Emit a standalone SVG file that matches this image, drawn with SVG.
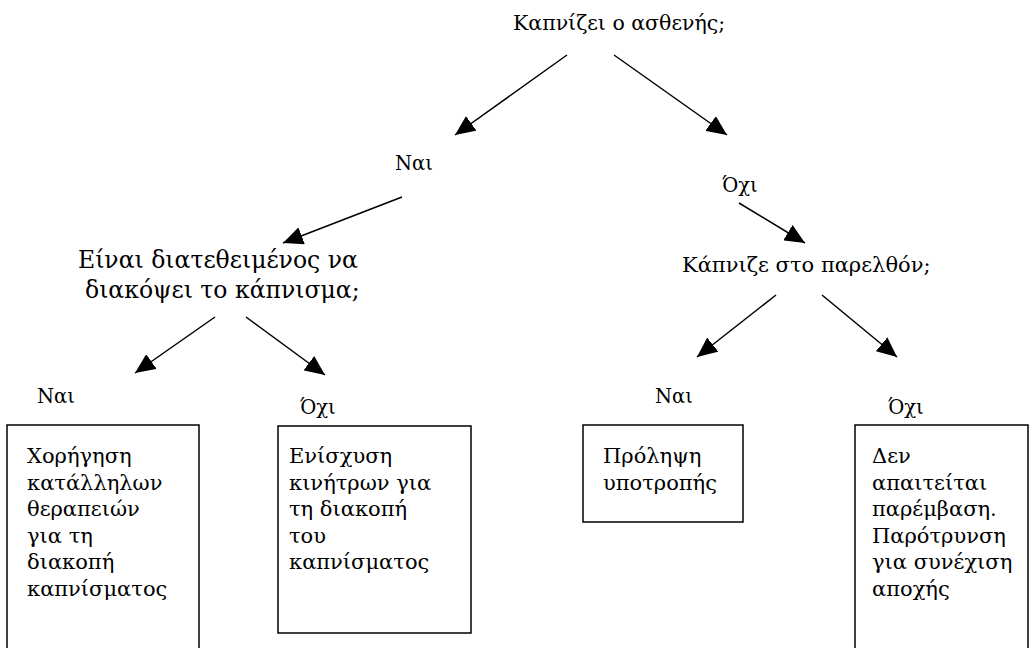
<svg xmlns="http://www.w3.org/2000/svg" width="1036" height="648" viewBox="0 0 1036 648">
<style>
text{font-family:"DejaVu Serif","Liberation Serif",serif;font-size:21px;fill:#000}
.q1{font-size:20.5px}
.lbl{font-size:19.5px}
.q2{font-size:23.5px}
.q3{font-size:21px}
.box{fill:#fff;stroke:#000;stroke-width:1.5}
.conn line{stroke:#000;stroke-width:1.5;marker-end:url(#ah)}
</style>
<defs>
<marker id="ah" markerUnits="userSpaceOnUse" markerWidth="22" markerHeight="18" refX="20" refY="9" orient="auto">
<path d="M0,0 L20,9 L0,18 Z" fill="#000"/>
</marker>
</defs>
<rect width="1036" height="648" fill="#fff"/>
<g id="q1"><text class="q1" x="513" y="30">Καπνίζει ο ασθενής;</text></g>
<g id="yes1"><text class="lbl" x="395" y="170">Ναι</text></g>
<g id="no1"><text class="lbl" x="722" y="192">Όχι</text></g>
<g id="q2"><text class="q2" x="78" y="268">Είναι διατεθειμένος να</text><text class="q2" x="85" y="298">διακόψει το κάπνισμα;</text></g>
<g id="q3"><text class="q3" x="682" y="272">Κάπνιζε στο παρελθόν;</text></g>
<g id="yes2"><text class="lbl" x="37" y="403">Ναι</text></g>
<g id="no2"><text class="lbl" x="300" y="414">Όχι</text></g>
<g id="yes3"><text class="lbl" x="655" y="403">Ναι</text></g>
<g id="no3"><text class="lbl" x="888" y="414">Όχι</text></g>
<g id="box1"><rect class="box" x="7" y="425" width="192" height="240"/>
<text x="27" y="463">Χορήγηση</text><text x="27" y="489.5">κατάλληλων</text><text x="27" y="516">θεραπειών</text><text x="27" y="542.5">για τη</text><text x="27" y="569">διακοπή</text><text x="27" y="595.5">καπνίσματος</text></g>
<g id="box2"><rect class="box" x="278" y="426" width="193" height="207"/>
<text x="289" y="463">Ενίσχυση</text><text x="289" y="489.5">κινήτρων για</text><text x="289" y="516">τη διακοπή</text><text x="289" y="542.5">του</text><text x="289" y="569">καπνίσματος</text></g>
<g id="box3"><rect class="box" x="583" y="425" width="160" height="97"/>
<text x="603" y="463">Πρόληψη</text><text x="603" y="489.5">υποτροπής</text></g>
<g id="box4"><rect class="box" x="855" y="425" width="173" height="240"/>
<text x="872" y="463">Δεν</text><text x="872" y="489.5">απαιτείται</text><text x="872" y="516">παρέμβαση.</text><text x="872" y="542.5">Παρότρυνση</text><text x="872" y="569">για συνέχιση</text><text x="872" y="595.5">αποχής</text></g>
<g class="conn" id="connectors">
<line x1="567" y1="55" x2="455" y2="135"/>
<line x1="614" y1="55" x2="727" y2="135"/>
<line x1="402" y1="197" x2="283" y2="243"/>
<line x1="739" y1="203" x2="805" y2="243"/>
<line x1="215" y1="317" x2="135" y2="373"/>
<line x1="246" y1="317" x2="325" y2="375"/>
<line x1="776" y1="295" x2="697" y2="357"/>
<line x1="822" y1="295" x2="897" y2="357"/>
</g>
</svg>
